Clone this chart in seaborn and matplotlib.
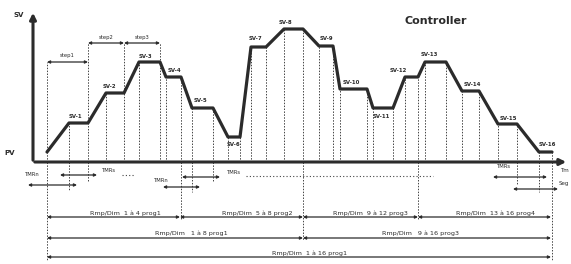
import numpy as np
import pandas as pd
import matplotlib
matplotlib.use("Agg")
import matplotlib.pyplot as plt
import seaborn as sns

# Profilo rampa/patamar (unità del grafico: origine all'incrocio degli assi)
time_pts = [14, 36, 55, 73, 91, 106, 127, 133, 148, 159, 180, 195, 207, 218, 233, 251,
            270, 286, 300, 307, 334, 340, 360, 372, 385, 392, 413, 429, 446, 465, 484, 506, 519]
sv_pts = [10, 39, 39, 69, 69, 100, 100, 85, 85, 54, 54, 25, 25, 115, 115, 133,
          133, 116, 116, 73, 73, 54, 54, 85, 85, 100, 100, 71, 71, 38, 38, 10, 10]

sv_labels = ["SV-1", "SV-2", "SV-3", "SV-4", "SV-5", "SV-6", "SV-7", "SV-8",
             "SV-9", "SV-10", "SV-11", "SV-12", "SV-13", "SV-14", "SV-15", "SV-16"]
sv_label_x = [42, 76, 112, 141, 168, 200, 222, 252, 293, 318, 348, 365, 396, 439, 475, 514]
sv_label_y = [45, 76, 106, 92, 62, 17, 123, 140, 123, 79, 45, 91, 107, 77, 44, 18]

step_labels = ["step1", "step2", "step3"]
step_from = [14, 55, 91]
step_to = [55, 91, 127]
step_y = [100, 119, 119]

prog_labels = ["Rmp/Dim  1 à 4 prog1", "Rmp/Dim  5 à 8 prog2", "Rmp/Dim  9 à 12 prog3",
               "Rmp/Dim  13 à 16 prog4", "Rmp/Dim   1 à 8 prog1", "Rmp/Dim   9 à 16 prog3",
               "Rmp/Dim  1 à 16 prog1"]
prog_from = [14, 147, 270, 385, 14, 270, 14]
prog_to = [147, 270, 385, 518, 270, 518, 518]
prog_y = [-55, -55, -55, -55, -76, -76, -95]
prog_text_x = [92, 224, 337, 462, 158, 388, 277]

sns.set_theme(style="white")
plt.rcParams['font.family'] = ['DejaVu Sans']

fig = plt.figure(figsize=(5.71, 2.64), dpi=100)
ax = fig.add_axes([0, 0, 1, 1])
ax.set_xlim(-33, 538)
ax.set_ylim(-102, 162)
ax.axis('off')

dark = "#2b2b2b"
grey = "#444444"

# linee tratteggiate verticali sopra l'asse
for t, s in zip(time_pts, sv_pts):
    top = s
    for i in range(3):
        if t in (step_from[i], step_to[i]):
            top = max(top, step_y[i])
    ax.plot([t, t], [0, top], ls=(0, (1.5, 1.5)), lw=0.7, color=grey, zorder=1)

# estensioni sotto l'asse
ext = {14: -98, 36: -28, 55: -20, 148: -58, 159: -30, 180: -20,
       270: -78, 385: -58, 484: -22, 506: -30, 519: -98}
for t, b in ext.items():
    ax.plot([t, t], [0, b], ls=(0, (1.5, 1.5)), lw=0.7, color=grey, zorder=1)

# profilo
prof = pd.DataFrame({"t": time_pts, "sv": sv_pts})
sns.lineplot(data=prof, x="t", y="sv", sort=False, ax=ax, color=dark, lw=2.3, zorder=3)

# assi
ax.annotate("", xy=(0, 152), xytext=(0, -1),
            arrowprops=dict(arrowstyle="-|>", lw=2.2, color=dark, mutation_scale=9))
ax.annotate("", xy=(536, 0), xytext=(-1, 0),
            arrowprops=dict(arrowstyle="-|>", lw=2.2, color=dark, mutation_scale=9))
ax.text(-14, 147, "SV", fontsize=5, fontweight="bold", color=dark, va="center", ha="center")
ax.text(-23, 9, "PV", fontsize=5, fontweight="bold", color=dark, va="center", ha="center")

ax.text(403, 141, "Controller", fontsize=8, color=dark, ha="center", va="center",
        fontweight="bold", family=["Liberation Sans Narrow", "DejaVu Sans"])

for lab, x, y in zip(sv_labels, sv_label_x, sv_label_y):
    ax.text(x, y, lab, fontsize=3.9, fontweight="bold", color=dark, ha="center", va="center")

arr = dict(arrowstyle="<|-|>", lw=0.9, color=dark, mutation_scale=4,
           shrinkA=0, shrinkB=0)
for lab, a, b, y in zip(step_labels, step_from, step_to, step_y):
    ax.annotate("", xy=(a, y), xytext=(b, y), arrowprops=arr)
    ax.text((a + b) / 2, y + 6, lab, fontsize=3.8, color=dark, ha="center", va="center")

# tempi TMR
tm_arrows = [(-5, 44, -23), (27, 64, -13), (130, 167, -25), (149, 187, -15),
             (460, 514, -15), (480, 525, -27)]
for a, b, y in tm_arrows:
    ax.annotate("", xy=(a, y), xytext=(b, y), arrowprops=arr)
tm_text = [("TMRn", -1, -13), ("TMRs", 76, -8), ("TMRn", 128, -18), ("TMRs", 201, -10),
           ("TMRs", 471, -5)]
for lab, x, y in tm_text:
    ax.text(x, y, lab, fontsize=3.8, color=dark, ha="center", va="center")
ax.plot([89, 101], [-13, -13], ls=(0, (1, 2)), lw=0.8, color=grey)
ax.plot([213, 400], [-14, -14], ls=(0, (1, 2)), lw=0.8, color=grey)
ax.text(527, -8, "Tm", fontsize=4, color=dark, ha="left", va="center")
ax.text(526, -22, "Seg", fontsize=4, color=dark, ha="left", va="center")

# programmi
for lab, a, b, y, tx in zip(prog_labels, prog_from, prog_to, prog_y, prog_text_x):
    ax.annotate("", xy=(a, y), xytext=(b, y), arrowprops=arr)
    ax.text(tx, y + 1.5, lab, fontsize=4.6, color=dark, ha="center", va="bottom")

fig.savefig("out.png", dpi=100)
